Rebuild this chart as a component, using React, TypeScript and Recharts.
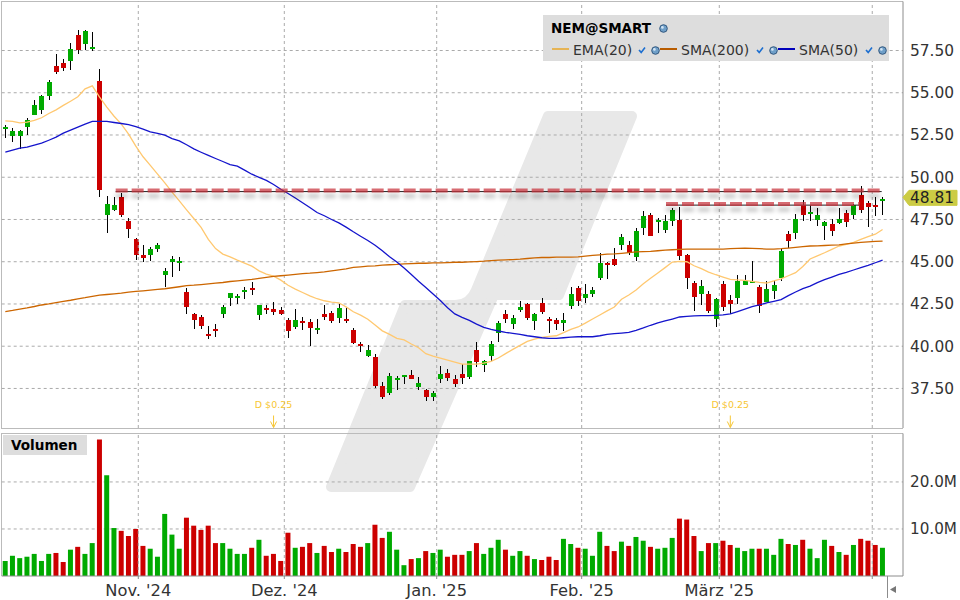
import React from "react";
import {
  Bar,
  CartesianGrid,
  Cell,
  ComposedChart,
  Line,
  ReferenceDot,
  ReferenceLine,
  XAxis,
  YAxis,
} from "recharts";

const opens = [52.85,52.43,52.43,52.96,53.67,53.97,54.80,56.57,56.75,56.87,58.41,57.87,57.58,55.69,47.76,48.05,48.82,47.40,46.34,45.39,45.39,45.74,44.21,44.98,44.92,43.20,41.90,41.72,40.72,41.01,41.90,42.85,42.85,43.20,43.44,41.84,42.25,42.19,42.14,41.54,41.13,41.48,41.43,40.95,41.90,41.96,41.66,41.60,40.95,40.12,39.41,39.35,37.64,37.22,37.99,38.17,38.29,37.58,37.40,36.99,38.05,38.41,38.05,38.35,38.17,39.77,38.88,39.42,40.78,41.91,41.31,42.14,42.50,41.49,42.56,41.61,41.55,41.37,42.38,43.45,42.86,43.09,44.04,44.93,45.17,46.00,46.00,45.29,47.01,47.78,47.36,46.89,47.42,47.48,45.41,43.76,43.11,43.11,41.63,43.70,42.76,42.87,43.64,43.76,43.52,42.64,43.29,44.06,46.65,46.71,48.37,47.83,47.48,47.13,47.24,47.30,47.89,47.78,48.96,48.48,48.37,48.60];
const closes = [52.96,52.73,52.73,53.38,54.27,54.80,55.63,56.22,56.45,57.58,57.52,58.64,57.70,49.24,48.41,48.35,47.76,46.93,45.39,45.21,45.74,45.98,44.44,45.15,45.03,42.31,41.54,41.19,40.60,40.89,42.31,43.14,42.96,43.32,43.32,42.43,42.14,42.02,41.90,40.89,41.54,41.37,41.07,41.07,41.72,41.48,42.25,41.48,40.18,40.00,39.77,37.64,36.99,38.23,38.11,38.29,38.05,37.82,36.99,37.22,38.35,38.11,37.76,38.11,39.12,39.06,39.12,40.13,41.37,41.61,41.67,42.32,41.67,41.91,42.03,41.49,41.31,41.55,43.09,42.68,43.09,43.33,44.93,44.81,44.81,46.47,45.52,46.83,47.72,46.54,47.48,47.42,48.07,45.35,44.06,42.93,43.58,42.11,42.81,42.34,42.52,43.88,43.88,43.88,42.40,43.41,43.64,45.65,46.24,47.54,47.78,47.95,47.78,47.36,46.83,47.54,47.36,48.37,48.07,48.25,48.25,48.72];
const highs = [53.08,52.90,52.79,53.50,54.56,54.86,55.74,57.28,56.99,57.93,58.70,58.70,58.58,56.40,48.88,48.82,49.06,47.58,46.40,45.98,45.86,46.10,44.62,45.33,45.27,43.44,41.96,41.84,41.19,41.31,42.43,43.14,43.08,43.50,43.79,42.43,42.43,42.61,42.31,41.66,42.19,41.72,41.60,41.60,42.43,42.08,42.49,42.25,41.07,40.24,40.06,39.53,37.87,38.41,38.23,38.29,38.59,38.17,37.46,37.34,38.82,38.65,38.29,38.94,39.12,40.25,39.18,40.31,41.49,42.14,41.85,42.68,42.56,41.97,42.86,41.73,41.67,41.97,43.51,43.57,43.69,43.51,45.52,44.99,45.82,46.65,46.24,47.01,48.01,47.89,47.60,47.78,48.19,48.25,45.47,43.88,43.94,43.29,42.87,43.88,43.05,44.23,44.23,45.06,43.64,43.88,43.94,45.83,46.83,47.83,48.66,48.37,48.19,47.42,47.54,48.19,48.07,48.43,49.49,48.60,48.84,48.84];
const lows = [52.33,52.08,51.68,52.49,53.67,53.73,54.56,56.10,56.28,56.34,57.28,57.52,57.46,48.82,46.71,48.00,47.64,46.40,45.10,44.98,45.03,45.57,43.50,44.09,44.44,41.90,41.01,41.01,40.42,40.54,41.66,42.37,42.49,42.79,43.02,41.54,41.90,41.84,41.84,40.48,41.01,40.95,40.00,40.71,41.54,41.37,41.37,41.37,40.12,39.65,39.35,37.52,36.87,37.11,37.40,37.76,38.05,37.40,36.75,36.75,37.82,37.93,37.58,37.76,38.05,38.76,38.47,39.12,40.25,41.37,41.02,42.03,41.55,40.96,41.91,40.78,40.96,40.90,42.20,42.38,42.56,42.91,43.92,43.98,44.75,45.70,45.41,45.05,46.59,46.54,46.71,46.71,47.13,45.12,43.41,42.11,42.46,41.99,41.16,42.11,41.93,42.52,43.64,43.76,41.99,42.64,42.81,43.88,45.83,46.36,47.42,47.42,47.13,46.30,46.54,47.24,47.07,47.54,47.89,47.07,47.72,47.78];
const volumes = [3.2,4.3,3.8,4.1,4.7,3.2,4.7,4.9,3.0,5.6,6.2,4.7,7.0,29.0,21.4,10.2,9.6,8.5,10.0,6.4,5.8,4.1,13.2,8.8,5.8,12.4,10.7,9.8,10.7,7.0,7.0,5.8,4.7,4.7,6.0,7.7,4.3,4.7,3.2,9.2,6.0,6.2,7.0,4.9,6.4,5.1,5.8,5.1,6.8,6.2,7.0,10.9,8.1,9.4,5.6,2.3,3.6,3.8,5.3,4.9,5.6,4.1,4.5,4.5,5.3,7.0,4.7,6.0,7.7,5.6,4.3,5.3,4.3,3.6,3.4,4.1,3.4,7.9,6.8,6.0,5.8,4.3,9.4,6.4,5.3,7.3,6.4,8.3,7.5,6.2,5.8,6.0,8.1,12.2,12.0,8.5,5.3,7.0,7.0,7.5,6.6,6.0,5.3,5.8,5.8,5.8,4.5,7.9,6.8,6.6,7.7,5.8,3.8,7.7,6.4,5.1,4.5,6.6,7.9,7.5,6.6,6.0];
const ema20 = [53.34,53.30,53.22,53.26,53.36,53.52,53.77,53.99,54.25,54.50,54.76,55.23,55.41,54.74,54.15,53.61,53.14,52.55,51.84,51.21,50.70,50.18,49.67,49.12,48.60,48.07,47.56,47.03,46.32,45.78,45.45,45.29,45.09,44.92,44.74,44.46,44.27,44.15,43.91,43.61,43.38,43.18,42.98,42.81,42.69,42.61,42.57,42.33,42.04,41.84,41.60,41.25,40.91,40.70,40.46,40.37,40.13,39.91,39.56,39.42,39.30,39.18,39.06,38.94,38.94,38.94,39.00,39.10,39.30,39.56,39.81,40.05,40.29,40.42,40.52,40.58,40.62,40.80,41.00,41.14,41.37,41.61,41.85,42.09,42.32,42.78,43.03,43.33,43.70,44.02,44.33,44.65,44.98,45.02,45.00,44.76,44.59,44.39,44.23,44.09,43.96,43.92,43.90,43.84,43.78,43.74,43.86,43.98,44.17,44.35,44.72,45.16,45.35,45.53,45.73,45.93,46.02,46.14,46.32,46.48,46.63,46.91];
const sma50 = [51.48,51.60,51.72,51.78,51.90,52.02,52.19,52.37,52.61,52.79,52.96,53.14,53.30,53.30,53.30,53.24,53.18,53.12,53.00,52.85,52.69,52.59,52.49,52.29,52.15,51.92,51.68,51.48,51.29,51.11,50.93,50.75,50.66,50.42,50.18,49.99,49.81,49.57,49.29,49.04,48.77,48.49,48.21,47.91,47.72,47.50,47.30,47.05,46.77,46.51,46.26,45.98,45.65,45.29,44.98,44.63,44.24,43.84,43.47,43.09,42.70,42.28,41.91,41.71,41.53,41.31,41.12,41.00,40.90,40.82,40.76,40.70,40.62,40.56,40.50,40.46,40.46,40.50,40.54,40.56,40.56,40.56,40.62,40.70,40.74,40.78,40.82,40.94,41.08,41.24,41.38,41.50,41.61,41.73,41.77,41.79,41.81,41.81,41.83,41.85,41.91,42.05,42.20,42.34,42.44,42.56,42.66,42.76,42.99,43.21,43.41,43.56,43.76,43.94,44.09,44.25,44.37,44.51,44.65,44.78,44.94,45.10];
const sma200 = [42.05,42.12,42.20,42.27,42.35,42.44,42.50,42.58,42.65,42.72,42.80,42.87,42.95,43.02,43.06,43.10,43.14,43.20,43.24,43.28,43.32,43.36,43.40,43.46,43.52,43.58,43.61,43.65,43.69,43.73,43.77,43.83,43.87,43.91,43.95,44.01,44.07,44.13,44.17,44.21,44.25,44.29,44.32,44.36,44.40,44.46,44.52,44.58,44.66,44.70,44.74,44.76,44.80,44.82,44.84,44.87,44.89,44.91,44.91,44.93,44.93,44.95,44.97,44.97,44.99,45.01,45.03,45.07,45.09,45.11,45.13,45.15,45.19,45.23,45.25,45.25,45.27,45.27,45.27,45.29,45.33,45.37,45.41,45.45,45.46,45.50,45.54,45.58,45.60,45.61,45.65,45.69,45.71,45.73,45.75,45.75,45.75,45.75,45.75,45.75,45.77,45.79,45.81,45.79,45.77,45.75,45.75,45.77,45.81,45.85,45.89,45.93,45.94,45.96,45.98,46.00,46.06,46.10,46.14,46.18,46.20,46.22];

const priceTicks = [37.5, 40, 42.5, 45, 47.5, 50, 52.5, 55, 57.5];
const volumeTicks = [10, 20];
const monthSlots = [18.84, 38.98, 60, 80, 98.98, 120.08];
const monthLabels = ["Nov. '24", "Dez. '24", "Jan. '25", "Feb. '25", "März '25", ""];
const dividendSlots = [37.5, 100.5];
const dividendLabel = "D $0.25";
const lastPrice = 48.81;
const levels = [
  { from: 15.72, to: 121.38, price: 49.18 },
  { from: 91.63, to: 118.4, price: 48.38 },
];

const SLOT_SPAN = 124.32;
const PRICE_DOMAIN: [number, number] = [35.16, 60.4];
const VOLUME_DOMAIN: [number, number] = [0, 30.3];
const UP = "#00aa00";
const DOWN = "#cc0000";
const AXIS = "#8c8c8c";
const GRID = "#aaaaaa";
const FONT = "'DejaVu Sans', sans-serif";

const rows = opens.map((open, i) => ({
  slot: String(i),
  pos: i + 0.5,
  open,
  close: closes[i],
  high: highs[i],
  low: lows[i],
  range: [lows[i], highs[i]],
  volume: volumes[i],
  ema20: ema20[i],
  sma50: sma50[i],
  sma200: sma200[i],
}));

function Candle(props: any) {
  const { x, y, width, height, payload } = props;
  const top = Math.min(y, y + height);
  const h = Math.abs(height);
  const perUnit = h / (payload.high - payload.low);
  const cx = Math.round(x + width / 2);
  const yOpen = top + (payload.high - payload.open) * perUnit;
  const yClose = top + (payload.high - payload.close) * perUnit;
  const bodyTop = Math.min(yOpen, yClose);
  const bodyH = Math.max(Math.abs(yClose - yOpen), 2);
  const color = payload.close >= payload.open ? UP : DOWN;
  return (
    <g shapeRendering="crispEdges">
      <rect x={cx} y={top} width={1} height={h} fill="#000" />
      <rect x={cx - 2} y={bodyTop} width={5} height={bodyH} fill={color} />
    </g>
  );
}

function Level(props: any) {
  const { x1, x2, y1 } = props;
  const y = y1;
  const id = `blur${Math.round(y)}`;
  return (
    <g>
      <defs>
        <filter id={id} x={x1 - 10} y={y - 20} width={x2 - x1 + 20} height={50} filterUnits="userSpaceOnUse">
          <feGaussianBlur stdDeviation="1.9" />
        </filter>
      </defs>
      <line x1={x1} x2={x2} y1={y + 5} y2={y + 5} stroke="#000" strokeOpacity={0.24} strokeWidth={4} strokeDasharray="12 4" filter={`url(#${id})`} />
      <line x1={x1} x2={x2} y1={y + 0.5} y2={y + 0.5} stroke="#222" strokeWidth={1} />
      <line x1={x1} x2={x2} y1={y - 0.5} y2={y - 0.5} stroke="#c8323c" strokeOpacity={0.72} strokeWidth={4} strokeDasharray="12 4" />
    </g>
  );
}

function Dividend(props: any) {
  const { cx, cy } = props;
  const c = "#f7c633";
  return (
    <g>
      <text x={cx} y={cy + 3.5} textAnchor="middle" fontFamily={FONT} fontSize={9.5} fill={c}>
        {dividendLabel}
      </text>
      <line x1={cx} x2={cx} y1={cy + 11} y2={cy + 23} stroke={c} strokeWidth={1} />
      <path d={`M${cx - 3} ${cy + 17} L${cx} ${cy + 23} L${cx + 3} ${cy + 17}`} fill="none" stroke={c} strokeWidth={1} />
    </g>
  );
}

function PriceTag(props: any) {
  const { cx, cy } = props;
  return (
    <g>
      <path d={`M${cx} ${cy} L${cx + 6} ${cy - 7} L${cx + 54} ${cy - 7} L${cx + 54} ${cy + 8} L${cx + 6} ${cy + 8} Z`} fill="#cccc44" stroke="#cccc44" strokeWidth={1} strokeLinejoin="round" />
      <text x={cx + 7} y={cy + 5.5} fontFamily={FONT} fontSize={15.4} fill="#222">
        {lastPrice.toFixed(2)}
      </text>
    </g>
  );
}

function Globe({ x, y }: { x: number; y: number }) {
  return (
    <svg style={{ position: "absolute", left: x, top: y }} width={9} height={9}>
      <circle cx={4.5} cy={4.5} r={3.8} fill="#6f9fc8" stroke="#33587f" strokeWidth={1} />
      <circle cx={3.4} cy={3.4} r={1.3} fill="#d5e6f5" />
    </svg>
  );
}

function Check({ x, y }: { x: number; y: number }) {
  return (
    <svg style={{ position: "absolute", left: x, top: y }} width={8} height={8}>
      <path d="M1 4 L3.2 6.4 L7 1.5" fill="none" stroke="#1d6fd0" strokeWidth={1.6} />
    </svg>
  );
}

function Label({ x, y, text, bold, size }: { x: number; y: number; text: string; bold?: boolean; size: number }) {
  return (
    <div style={{ position: "absolute", left: x, top: y, fontFamily: FONT, fontSize: size, fontWeight: bold ? 700 : 400, color: bold ? "#000" : "#333", lineHeight: "16px", whiteSpace: "nowrap" }}>
      {text}
    </div>
  );
}

const legendItems = [
  { name: "EMA(20)", color: "#e6b455", swatch: 552, label: 573, check: 638, globe: 650.5 },
  { name: "SMA(200)", color: "#b85c00", swatch: 660, label: 681, check: 756, globe: 768.5 },
  { name: "SMA(50)", color: "#0000bb", swatch: 778, label: 799, check: 865, globe: 877.5 },
];

export default function App() {
  return (
    <div style={{ position: "absolute", left: 0, top: 0, width: 960, height: 600, background: "#fff", overflow: "hidden" }}>
      <svg style={{ position: "absolute", left: 0, top: 0 }} width={960} height={600}>
        <path
          d="M548 116 L632 116 L559 295 L494 295 L410 487 L331 487 L405 305 L455 305 Q470 305 476 290 Z"
          fill="#e8e8e8"
          stroke="#e8e8e8"
          strokeWidth={10}
          strokeLinejoin="round"
        />
      </svg>
      <div style={{ position: "absolute", left: 1, top: 1, width: 902, height: 428, borderTop: "1px solid #bbb", borderLeft: "1px solid #bbb", borderBottom: "1px solid #bbb", boxSizing: "border-box" }} />
      <div style={{ position: "absolute", left: 1, top: 433, width: 902, height: 143, borderTop: "1px solid #bbb", borderLeft: "1px solid #bbb", boxSizing: "border-box" }} />

      <div style={{ position: "absolute", left: 0, top: 0 }}>
        <ComposedChart width={960} height={430} data={rows} margin={{ top: 1.5, right: 0, bottom: 2, left: 1.7 }} barCategoryGap={0}>
          <CartesianGrid vertical={false} stroke={GRID} strokeDasharray="3 3" horizontalValues={priceTicks} />
          <XAxis dataKey="slot" hide height={0} padding={{ left: 0, right: 16.8 }} />
          <XAxis xAxisId="t" dataKey="pos" type="number" hide height={0} domain={[0, SLOT_SPAN]} allowDataOverflow />
          <YAxis orientation="right" width={57} domain={PRICE_DOMAIN} ticks={priceTicks} interval={0} allowDataOverflow tickFormatter={(v: number) => v.toFixed(2)} tick={{ fontFamily: FONT, fontSize: 15.4, fill: "#333" }} tickLine={false} tickSize={0} tickMargin={7} axisLine={{ stroke: AXIS, strokeWidth: 1 }} />
          {monthSlots.map((s) => (
            <ReferenceLine key={s} xAxisId="t" x={s} stroke={GRID} strokeDasharray="3 3" />
          ))}
          <Bar dataKey="range" barSize={5} shape={<Candle />} isAnimationActive={false} />
          <Line dataKey="ema20" stroke="#ffc870" strokeWidth={1.3} dot={false} isAnimationActive={false} />
          <Line dataKey="sma200" stroke="#cc6600" strokeWidth={1.3} dot={false} isAnimationActive={false} />
          <Line dataKey="sma50" stroke="#1414cc" strokeWidth={1.3} dot={false} isAnimationActive={false} />
          {levels.map((l) => (
            <ReferenceLine key={l.from} xAxisId="t" ifOverflow="visible" segment={[{ x: l.from, y: l.price }, { x: l.to, y: l.price }]} shape={<Level />} />
          ))}
          {dividendSlots.map((s) => (
            <ReferenceDot key={s} xAxisId="t" x={s} y={36.55} r={1} shape={<Dividend />} />
          ))}
          <ReferenceDot xAxisId="t" x={SLOT_SPAN} y={lastPrice} r={1} shape={<PriceTag />} ifOverflow="visible" />
        </ComposedChart>
      </div>

      <div style={{ position: "absolute", left: 0, top: 430 }}>
        <ComposedChart width={960} height={170} data={rows} margin={{ top: 3.5, right: 0, bottom: 0, left: 1.7 }} barCategoryGap={0}>
          <CartesianGrid vertical={false} stroke={GRID} strokeDasharray="3 3" horizontalValues={volumeTicks} />
          <XAxis dataKey="slot" hide height={0} padding={{ left: 0, right: 16.8 }} />
          <XAxis
            xAxisId="t"
            dataKey="pos"
            type="number"
            domain={[0, SLOT_SPAN]}
            allowDataOverflow
            ticks={monthSlots}
            interval={0}
            height={24}
            tickFormatter={(v: number) => monthLabels[monthSlots.indexOf(v)]}
            tick={{ fontFamily: FONT, fontSize: 16.3, fill: "#333" }}
            tickSize={3}
            tickMargin={5}
            tickLine={{ stroke: AXIS }}
            axisLine={{ stroke: AXIS, strokeWidth: 1 }}
          />
          <YAxis orientation="right" width={57} domain={VOLUME_DOMAIN} ticks={volumeTicks} interval={0} allowDataOverflow tickFormatter={(v: number) => `${v.toFixed(1)}M`} tick={{ fontFamily: FONT, fontSize: 15.2, fill: "#333" }} tickLine={false} tickSize={0} tickMargin={7} axisLine={{ stroke: AXIS, strokeWidth: 1 }} />
          {monthSlots.map((s) => (
            <ReferenceLine key={s} xAxisId="t" x={s} stroke={GRID} strokeDasharray="3 3" />
          ))}
          <Bar dataKey="volume" barSize={5} isAnimationActive={false}>
            {rows.map((r) => (
              <Cell key={r.slot} fill={r.close >= r.open ? UP : DOWN} />
            ))}
          </Bar>
        </ComposedChart>
      </div>

      <div style={{ position: "absolute", left: 3, top: 435, width: 84, height: 20, background: "#dddddd" }} />
      <Label x={11} y={437} text="Volumen" bold size={13.6} />

      <div style={{ position: "absolute", left: 543, top: 15, width: 346, height: 46, background: "#dddddd" }} />
      <Label x={551} y={20} text="NEM@SMART" bold size={13.5} />
      <Globe x={658.5} y={23.5} />
      {legendItems.map((it) => (
        <React.Fragment key={it.name}>
          <div style={{ position: "absolute", left: it.swatch, top: 48, width: 17, height: 2, background: it.color }} />
          <Label x={it.label} y={42} text={it.name} size={14} />
          <Check x={it.check} y={46} />
          <Globe x={it.globe} y={45.5} />
        </React.Fragment>
      ))}

      <div style={{ position: "absolute", left: 887, top: 576, width: 1, height: 22, background: AXIS }} />
      <svg style={{ position: "absolute", left: 889, top: 585 }} width={10} height={10}>
        <path d="M1 4.5 L7 1 L7 8 Z" fill="#777" />
      </svg>
    </div>
  );
}
